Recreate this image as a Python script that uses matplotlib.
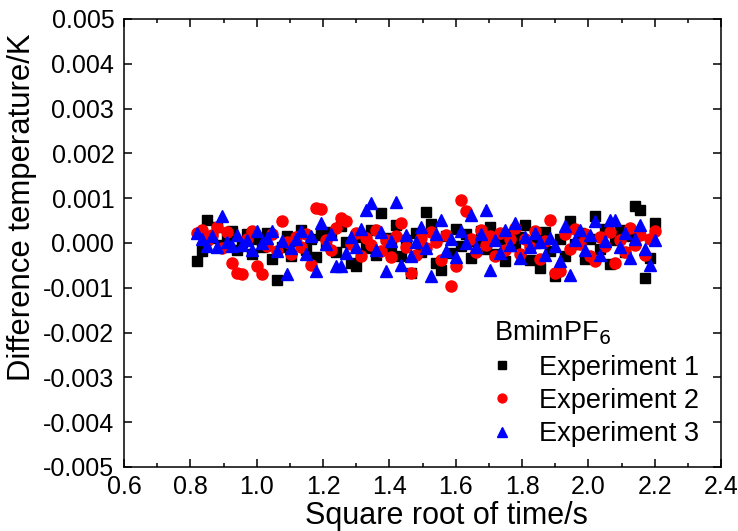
import numpy as np
import matplotlib.pyplot as plt
from matplotlib.ticker import MultipleLocator

plt.rcParams['font.family'] = ['Liberation Sans', 'DejaVu Sans']

# raiz cuadrada del tiempo (s^0.5), mismo muestreo para los tres experimentos
sqrt_time = [0.820, 0.835, 0.850, 0.865, 0.880, 0.895, 0.910, 0.925, 0.940, 0.955,
             0.970, 0.985, 1.000, 1.015, 1.030, 1.045, 1.060, 1.075, 1.090, 1.105,
             1.120, 1.135, 1.150, 1.165, 1.180, 1.195, 1.210, 1.225, 1.240, 1.255,
             1.270, 1.285, 1.300, 1.315, 1.330, 1.345, 1.360, 1.375, 1.390, 1.405,
             1.420, 1.435, 1.450, 1.465, 1.480, 1.495, 1.510, 1.525, 1.540, 1.555,
             1.570, 1.585, 1.600, 1.615, 1.630, 1.645, 1.660, 1.675, 1.690, 1.705,
             1.720, 1.735, 1.750, 1.765, 1.780, 1.795, 1.810, 1.825, 1.840, 1.855,
             1.870, 1.885, 1.900, 1.915, 1.930, 1.945, 1.960, 1.975, 1.990, 2.005,
             2.020, 2.035, 2.050, 2.065, 2.080, 2.095, 2.110, 2.125, 2.140, 2.155,
             2.170, 2.185, 2.200]

# diferencias de temperatura (K)
exp1 = [-4.0e-4, -1.8e-4, 5.1e-4, 1.2e-4, 3.5e-4, -0.5e-4, 0.8e-4, 2.6e-4, -1.5e-4, 0.3e-4,
        2.0e-4, -2.4e-4, 1.0e-4, -0.8e-4, 2.2e-4, -3.5e-4, -8.2e-4, -1.0e-4, 1.5e-4, -2.8e-4,
        0.5e-4, 2.9e-4, -1.6e-4, 0.9e-4, -3.2e-4, 1.8e-4, -0.4e-4, 2.5e-4, -2.0e-4, 3.8e-4,
        0.2e-4, -4.5e-4, -5.1e-4, 1.4e-4, -1.2e-4, 3.0e-4, -2.6e-4, 6.7e-4, 1.1e-4, -0.9e-4,
        4.0e-4, -3.0e-4, 0.6e-4, -6.7e-4, 2.3e-4, -1.9e-4, 7.0e-4, 4.2e-4, -4.4e-4, -6.0e-4,
        1.6e-4, -2.2e-4, 3.2e-4, -0.6e-4, 1.9e-4, -3.4e-4, 0.4e-4, 2.7e-4, -1.4e-4, 3.6e-4,
        -2.5e-4, 0.9e-4, -4.0e-4, 2.1e-4, -0.7e-4, 1.3e-4, 4.0e-4, -3.8e-4, 0.1e-4, -5.6e-4,
        2.4e-4, -1.7e-4, -7.3e-4, 0.8e-4, -2.9e-4, 4.9e-4, -0.3e-4, 2.2e-4, -3.6e-4, 1.0e-4,
        6.0e-4, -1.3e-4, 3.1e-4, -4.6e-4, 0.7e-4, 2.8e-4, -2.1e-4, 1.5e-4, 8.2e-4, 7.3e-4,
        -7.8e-4, -3.3e-4, 4.4e-4]

exp2 = [2.2e-4, 3.0e-4, 0.5e-4, 1.8e-4, 3.6e-4, -1.2e-4, 2.5e-4, -4.4e-4, -6.7e-4, -6.9e-4,
        1.0e-4, 2.7e-4, -5.1e-4, -6.9e-4, -0.6e-4, 1.9e-4, -1.8e-4, 4.9e-4, 0.3e-4, -2.5e-4,
        1.4e-4, -0.9e-4, 2.0e-4, -4.9e-4, 7.8e-4, 7.6e-4, 0.6e-4, -1.5e-4, 3.4e-4, 5.6e-4,
        5.0e-4, -0.2e-4, 2.2e-4, -2.8e-4, 1.1e-4, -0.5e-4, 2.9e-4, -1.8e-4, 0.7e-4, -3.1e-4,
        1.5e-4, 4.4e-4, -0.8e-4, -6.7e-4, -2.7e-4, 1.2e-4, -1.1e-4, 2.4e-4, 0.2e-4, -3.7e-4,
        1.8e-4, -9.6e-4, -5.1e-4, 9.6e-4, 7.1e-4, 0.9e-4, -2.0e-4, 3.0e-4, -0.4e-4, 1.6e-4,
        -3.0e-4, 2.3e-4, -1.6e-4, 0.8e-4, 3.3e-4, -2.4e-4, 1.0e-4, -0.9e-4, 2.6e-4, -3.5e-4,
        0.4e-4, 5.1e-4, -6.7e-4, -6.2e-4, 1.9e-4, -1.3e-4, 3.1e-4, -0.2e-4, 2.0e-4, -2.9e-4,
        -4.0e-4, 1.3e-4, -0.7e-4, 2.5e-4, -4.4e-4, 0.6e-4, -1.9e-4, 3.4e-4, -0.5e-4, 1.7e-4,
        -2.6e-4, 0.9e-4, 2.7e-4]

exp3 = [2.2e-4, 0.9e-4, -0.7e-4, 1.5e-4, -1.0e-4, 6.0e-4, 0.2e-4, -0.7e-4, 1.8e-4, -0.4e-4,
        0.6e-4, -1.6e-4, 2.7e-4, 0.0e-4, 1.2e-4, 2.7e-4, -1.8e-4, 0.4e-4, -6.9e-4, -1.1e-4,
        0.8e-4, 2.7e-4, -2.4e-4, 1.6e-4, -6.2e-4, 4.4e-4, -0.3e-4, 2.0e-4, -5.1e-4, -5.1e-4,
        -2.3e-4, 1.3e-4, -0.9e-4, 3.1e-4, 7.3e-4, 8.9e-4, -1.5e-4, 2.4e-4, -6.2e-4, 0.5e-4,
        9.1e-4, -4.9e-4, 1.7e-4, -2.8e-4, 0.3e-4, 3.5e-4, -1.2e-4, -7.3e-4, 2.1e-4, 5.1e-4,
        -1.8e-4, 0.9e-4, -3.2e-4, 2.6e-4, 0.1e-4, 6.2e-4, -0.8e-4, 1.9e-4, 7.3e-4, -6.0e-4,
        0.6e-4, -2.2e-4, 2.8e-4, -0.5e-4, 4.4e-4, -3.3e-4, 1.4e-4, -1.0e-4, 2.3e-4, 0.2e-4,
        -2.6e-4, 1.1e-4, -0.6e-4, -4.0e-4, 3.8e-4, -7.1e-4, 0.7e-4, 2.9e-4, -1.5e-4, 1.8e-4,
        4.9e-4, -2.7e-4, 0.4e-4, 5.1e-4, 5.1e-4, -0.9e-4, 2.2e-4, -3.3e-4, 0.9e-4, 4.0e-4,
        -1.4e-4, -4.9e-4, 0.7e-4]

fig = plt.figure(figsize=(7.38, 5.31), dpi=100)
ax = fig.add_axes([124 / 738, 1 - 467 / 531, (721 - 124) / 738, (467 - 19) / 531])

ax.plot(sqrt_time, exp1, 's', color='black', markersize=7, label='Experiment 1')
ax.plot(sqrt_time, exp2, 'o', color='red', markersize=8, label='Experiment 2')
ax.plot(sqrt_time, exp3, '^', color='blue', markersize=9, label='Experiment 3')

ax.set_xlim(0.6, 2.4)
ax.set_ylim(-0.005, 0.005)
ax.xaxis.set_major_locator(MultipleLocator(0.2))
ax.xaxis.set_minor_locator(MultipleLocator(0.1))
ax.yaxis.set_major_locator(MultipleLocator(0.001))
ax.xaxis.set_major_formatter(plt.FuncFormatter(lambda v, p: f"{v:.1f}"))
ax.yaxis.set_major_formatter(plt.FuncFormatter(lambda v, p: f"{v:.3f}" if abs(v) > 1e-9 else "0.000"))

ax.tick_params(which='both', direction='in', top=True, right=True, labelsize=18, width=1.1)
ax.tick_params(which='major', length=6)
ax.tick_params(which='minor', length=3)
ax.tick_params(axis='y', pad=7)
ax.tick_params(axis='x', pad=6)
for s in ax.spines.values():
    s.set_linewidth(1.1)

ax.set_xlabel('Square root of time/s', fontsize=22)
ax.set_ylabel('Difference temperature/K', fontsize=22.4)
ax.xaxis.set_label_coords(0.54, -0.076)
ax.yaxis.set_label_coords(-0.145, 0.579)

leg = ax.legend(title='BmimPF$_6$', loc='upper left', frameon=False, fontsize=19.5,
                title_fontsize=19.5, markerscale=0.8, handlelength=0.6, handletextpad=1.05,
                labelspacing=0.27, borderpad=0.0, borderaxespad=0.0,
                bbox_to_anchor=(0.62, 0.331))
leg._legend_box.align = 'left'

fig.savefig('out.png', dpi=100)
